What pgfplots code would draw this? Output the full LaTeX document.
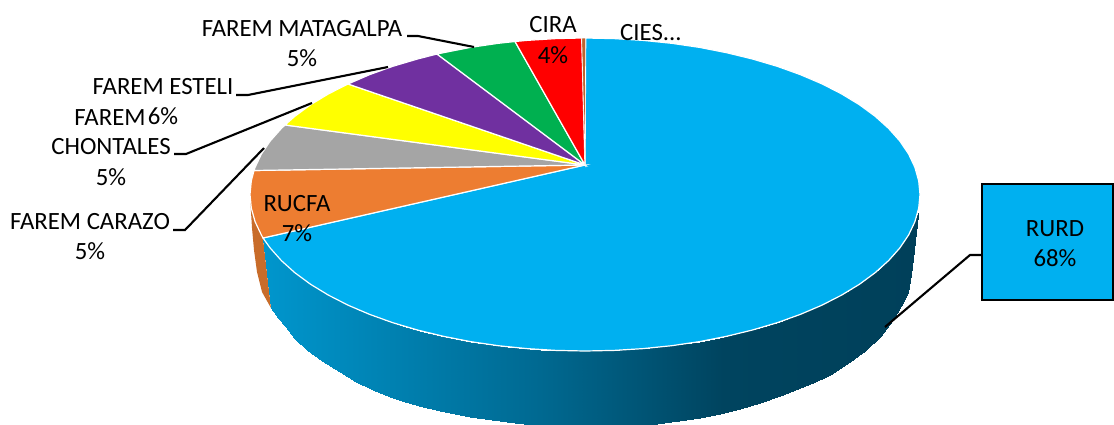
\documentclass[border=0pt]{standalone}
\usepackage{pgfplots}
\pgfplotsset{compat=1.18}
\usepackage{fontspec}
\setmainfont{Carlito}
\definecolor{rurd}{RGB}{0,176,240}
\definecolor{rucfa}{RGB}{237,125,49}
\definecolor{grayS}{RGB}{165,165,165}
\definecolor{yelS}{RGB}{255,255,0}
\definecolor{purS}{RGB}{112,48,160}
\definecolor{greS}{RGB}{0,176,80}
\definecolor{redS}{RGB}{255,0,0}
\definecolor{ciesS}{RGB}{190,100,45}
\definecolor{rucfaW}{RGB}{200,108,42}
\tikzset{
  lab/.style={font=\fontsize{12.4}{14}\selectfont,text=black,inner sep=0pt},
}
\pgfplotsset{
  leader/.style={black,line width=1.05pt,no markers},
  slice/.style={draw=white,line width=0.6pt,no markers},
}
\begin{document}
\begin{tikzpicture}
\path[use as bounding box] (0,0) rectangle (557pt,212pt);
\begin{axis}[
  at={(0,0)},anchor=south west,
  scale only axis,width=557pt,height=212pt,
  xmin=0,xmax=1114,ymin=0,ymax=424,y dir=reverse,
  axis lines=none,
  colormap={wall}{rgb255(0pt)=(0,150,205); rgb255(277pt)=(0,105,145); rgb255(460pt)=(0,68,95); rgb255(657pt)=(0,64,90)},
  point meta min=263,point meta max=920,
]
% orange wall
\addplot[fill=rucfaW,draw=none,no markers] coordinates {
(250,197)(251,212)(252,228)(254,250)(257,272)(262,292)(271,308)(263,238)(255,221)} -- cycle;
% blue wall
\addplot[surf,shader=interp,mesh/rows=2,point meta=x] coordinates {
(263,238)(271,249)(285,264)(295,272.8)(307,282)(322,291.4)(340,301)(356,308.8)(373,316)(390,321.8)(405,326.5)(423,331.5)(440,335.5)(470,341.5)(507,346.7)(540,349.6)(565,350.9)(592,351)(620,350)(650,348)(700,341.5)(720,337.7)(740,333.2)(760,328)(780,321.8)(813,309.2)(830,301.2)(847,292)(865,280.4)(880,268.7)(893,256.1)(901,246.4)(908,236)(912,228.5)(916,218.5)(918,213)

(271,308)(278,318)(285,326)(295,339)(307,350)(322,361)(340,372)(356,382)(373,390)(390,397)(405,402)(423,407)(440,411)(470,417)(507,422)(540,426)(565,428)(592,430)(620,428)(650,425)(700,417.5)(720,413.7)(740,409)(760,403.4)(780,396)(813,383)(830,374.5)(847,363.5)(865,351)(880,337)(893,320)(901,306)(908,292)(911,275)(914,250)(918,215)
};
% RURD
\addplot[slice,fill=rurd] coordinates {
(585,165)(585.7,38)(614.2,38.6)(643.2,40.4)(671.7,43.3)(699.6,47.4)(726.6,52.7)(752.5,59)(777.2,66.3)(800.3,74.6)(821.9,83.8)(841.6,93.9)(859.4,104.7)(875.1,116.25)(888.6,128.4)(899.8,141)(908.6,154)(914.9,167.3)(918.7,180.9)(920,194.5)
(918.7,208.1)(914.9,221.7)(908.6,235)(899.8,248)(888.6,260.6)(875.1,272.75)(859.4,284.3)(841.6,295.1)(821.9,305.2)(800.3,314.4)(777.2,322.7)(752.5,330)(726.6,336.3)(699.6,341.6)(671.7,345.7)(643.2,348.6)(614.2,350.4)(585,351)
(555.8,350.4)(526.8,348.6)(498.3,345.7)(470.4,341.6)(443.4,336.3)(417.5,330)(392.8,322.7)(369.7,314.4)(348.1,305.2)(328.4,295.1)(310.6,284.3)(294.9,272.75)(281.4,260.6)(270.2,248)(263,238)} -- cycle;
% RUCFA
\addplot[slice,fill=rucfa] coordinates {
(585,165)(263,238)(261.4,235)(255.1,221.7)(251.3,208.1)(250,194.5)(251.3,180.9)(254,170.5)} -- cycle;
% FAREM CARAZO
\addplot[slice,fill=grayS] coordinates {
(585,165)(254,170.5)(255.1,167.3)(261.4,154)(270.2,141)(281.4,128.4)(285,125)} -- cycle;
% FAREM CHONTALES
\addplot[slice,fill=yelS] coordinates {
(585,165)(285,125)(294.9,116.25)(310.6,104.7)(328.4,93.9)(348,84)} -- cycle;
% FAREM ESTELI
\addplot[slice,fill=purS] coordinates {
(585,165)(348,84)(369.7,74.6)(392.8,66.3)(417.5,59)(437,54)} -- cycle;
% FAREM MATAGALPA
\addplot[slice,fill=greS] coordinates {
(585,165)(437,54)(443.4,52.7)(470.4,47.4)(498.3,43.3)(515,41.5)} -- cycle;
% CIRA
\addplot[slice,fill=redS] coordinates {
(585,165)(515,41.5)(526.8,40.4)(555.8,38.6)(581.7,38)} -- cycle;
% CIES
\addplot[draw=white,line width=0.3pt,fill=ciesS,no markers] coordinates {
(585,165)(581.7,38)(585.7,38)} -- cycle;
% leaders
\addplot[leader] coordinates {(407,36)(418,36)(474,47)};
\addplot[leader] coordinates {(236,95)(248,95)(388,67)};
\addplot[leader] coordinates {(174,154)(186,154)(312,103)};
\addplot[leader] coordinates {(173,230)(185,230)(264,148)};
\addplot[leader] coordinates {(885,327)(970,255)(982,255)};
% box
\addplot[fill=rurd,draw=black,line width=1pt,no markers] coordinates {(982,184)(1113,184)(1113,300)(982,300)} -- cycle;
% labels
\node[lab] at (axis cs:302,29) {FAREM MATAGALPA};
\node[lab] at (axis cs:302,58) {5\%};
\node[lab] at (axis cs:163,87) {FAREM ESTELI};
\node[lab] at (axis cs:163,116) {6\%};
\node[lab] at (axis cs:110,118) {FAREM};
\node[lab] at (axis cs:111,147) {CHONTALES};
\node[lab] at (axis cs:111,177) {5\%};
\node[lab] at (axis cs:90,222) {FAREM CARAZO};
\node[lab] at (axis cs:90,251) {5\%};
\node[lab] at (axis cs:297,204) {RUCFA};
\node[lab] at (axis cs:297,233) {7\%};
\node[lab] at (axis cs:553,25) {CIRA};
\node[lab] at (axis cs:553,55) {4\%};
\node[lab] at (axis cs:651,33) {CIES...};
\node[lab] at (axis cs:1055,229) {RURD};
\node[lab] at (axis cs:1055,258) {68\%};
\end{axis}
\end{tikzpicture}
\end{document}
